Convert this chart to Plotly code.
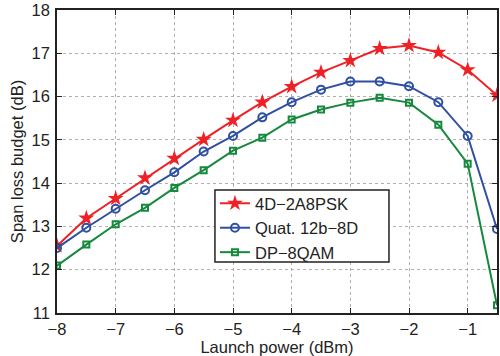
import plotly.graph_objects as go

launch_power = [-8.5, -8, -7.5, -7, -6.5, -6, -5.5, -5, -4.5, -4, -3.5, -3, -2.5, -2, -1.5, -1, -0.5]
psk_4d = [11.95, 12.55, 13.19, 13.645, 14.12, 14.57, 15.01, 15.45, 15.87, 16.23, 16.56, 16.83, 17.11, 17.18, 17.02, 16.62, 16.03]
quat_12b = [12.0, 12.5, 12.97, 13.41, 13.835, 14.25, 14.73, 15.09, 15.52, 15.87, 16.16, 16.35, 16.35, 16.24, 15.87, 15.09, 12.94]
dp_8qam = [11.6, 12.1, 12.58, 13.05, 13.43, 13.89, 14.3, 14.75, 15.05, 15.47, 15.70, 15.86, 15.97, 15.86, 15.35, 14.45, 11.18]

x_ticks = [-8, -7, -6, -5, -4, -3, -2, -1]
y_ticks = [11, 12, 13, 14, 15, 16, 17, 18]

FONT = "Liberation Sans, Arial, Helvetica, sans-serif"
FS = 16.5

fig = go.Figure()
fig.add_trace(go.Scatter(
    x=launch_power, y=psk_4d, name="4D−2A8PSK", mode="lines+markers",
    line=dict(color="#ee2226", width=2),
    marker=dict(symbol="star", size=12, color="#ee2226", line=dict(width=0)),
))
fig.add_trace(go.Scatter(
    x=launch_power, y=quat_12b, name="Quat. 12b−8D", mode="lines+markers",
    line=dict(color="#2e4fa2", width=2),
    marker=dict(symbol="circle-open", size=8, color="#2e4fa2", line=dict(width=2)),
))
fig.add_trace(go.Scatter(
    x=launch_power, y=dp_8qam, name="DP−8QAM", mode="lines+markers",
    line=dict(color="#16893f", width=2),
    marker=dict(symbol="square-open", size=6, color="#16893f", line=dict(width=2)),
))

axis_common = dict(
    showline=True, linecolor="#222", linewidth=1.5, mirror="ticks",
    ticks="inside", ticklen=5, tickcolor="#222", tickwidth=1,
    showgrid=True, gridcolor="#b0b0b0", griddash="dot", gridwidth=1,
    zeroline=False, tickfont=dict(family=FONT, size=FS, color="#222"),
    automargin=False, ticklabeloverflow="allow",
)

# legend frame (MATLAB-style box, wider than the text)
fig.add_shape(
    type="rect", xref="paper", yref="paper",
    x0=0.359, x1=0.7545, y0=0.168, y1=0.406,
    fillcolor="white", line=dict(color="#222", width=1.5), layer="above",
)

fig.update_layout(
    width=500, height=356,
    margin=dict(l=57, r=3, t=10, b=43),
    paper_bgcolor="white", plot_bgcolor="white",
    showlegend=True,
    legend=dict(
        x=0.359, y=0.419, xanchor="left", yanchor="top",
        bgcolor="rgba(0,0,0,0)", borderwidth=0,
        font=dict(family=FONT, size=FS, color="#222"),
        itemwidth=30, tracegroupgap=0,
    ),
    xaxis=dict(
        range=[-8, -0.5], tickvals=x_ticks, ticklabelstandoff=0,
        title=dict(text="Launch power (dBm)", font=dict(family=FONT, size=FS, color="#222"), standoff=0),
        **axis_common,
    ),
    yaxis=dict(
        range=[11, 18], tickvals=y_ticks, ticklabelstandoff=2,
        title=dict(text="Span loss budget (dB)", font=dict(family=FONT, size=FS, color="#222"), standoff=4),
        **axis_common,
    ),
)

fig.write_html("out.html")
